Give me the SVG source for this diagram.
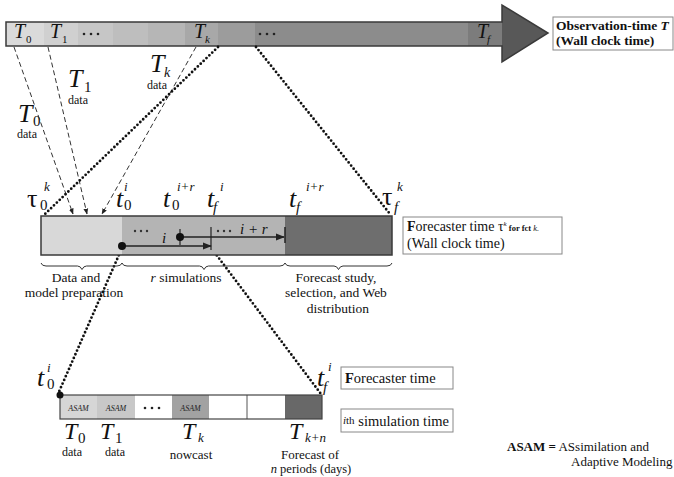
<svg xmlns="http://www.w3.org/2000/svg" width="674" height="477" viewBox="0 0 674 477">
<style>
text{font-family:"Liberation Serif","Times New Roman",serif;fill:#111}
.it{font-style:italic}
.bT{font-size:26px;font-style:italic}
.sub{font-size:15px}
.sup{font-size:13px;font-style:italic}
.lbl{font-size:13.5px}
.dash{stroke:#333;stroke-width:1;stroke-dasharray:5 3;fill:none}
.dot{stroke:#111;stroke-width:2.8;stroke-dasharray:0 4;stroke-linecap:round;fill:none}
.box{fill:#fff;stroke:#888;stroke-width:1}
.brace{fill:none;stroke:#333;stroke-width:1}
.asam{font-size:8px;font-style:italic;fill:#222}
.dl{font-size:12px}
</style>
<defs>
<marker id="ah" viewBox="0 0 10 10" refX="9" refY="5" markerWidth="6" markerHeight="6" orient="auto" markerUnits="userSpaceOnUse">
<path d="M0,1 L10,5 L0,9 Z" fill="#222"/>
</marker>
<marker id="ah2" viewBox="0 0 10 10" refX="9" refY="5" markerWidth="9" markerHeight="9" orient="auto" markerUnits="userSpaceOnUse">
<path d="M0,1 L10,5 L0,9 Z" fill="#222"/>
</marker>
</defs>

<!-- Observation time arrow -->
<g id="obs-bar">
<rect x="6" y="22" width="38" height="24" fill="#dadada"/>
<rect x="44" y="22" width="34" height="24" fill="#d0d0d0"/>
<rect x="78" y="22" width="35" height="24" fill="#c6c6c6"/>
<rect x="113" y="22" width="35" height="24" fill="#bebebe"/>
<rect x="148" y="22" width="37" height="24" fill="#b6b6b6"/>
<rect x="185" y="22" width="33" height="24" fill="#a8a8a8"/>
<rect x="218" y="22" width="37" height="24" fill="#9c9c9c"/>
<rect x="255" y="22" width="213" height="24" fill="#8c8c8c"/>
<rect x="468" y="22" width="34" height="24" fill="#7c7c7c"/>
<path d="M502,5 L548,33 L502,62 Z" fill="#585858"/>
<path d="M6,22 H502 V5 L548,33 L502,62 V46 H6 Z" fill="none" stroke="#3a3a3a" stroke-width="1.5"/>
<text x="14" y="38" class="it" font-size="20">T</text><text x="26" y="43" font-size="11">0</text>
<text x="50" y="38" class="it" font-size="20">T</text><text x="62" y="43" font-size="11">1</text>
<circle cx="84" cy="34" r="1.3" fill="#222"/><circle cx="91" cy="34" r="1.3" fill="#222"/><circle cx="98" cy="34" r="1.3" fill="#222"/>
<text x="194" y="38" class="it" font-size="20">T</text><text x="205" y="43" class="it" font-size="11">k</text>
<circle cx="260" cy="34" r="1.3" fill="#222"/><circle cx="267" cy="34" r="1.3" fill="#222"/><circle cx="274" cy="34" r="1.3" fill="#222"/>
<text x="477" y="38" class="it" font-size="20">T</text><text x="487" y="43" class="it" font-size="11">f</text>
</g>

<g id="obs-label">
<rect x="553" y="17" width="120" height="33" class="box"/>
<text x="556" y="30" font-size="13.5" font-weight="bold">Observation-time <tspan class="it">T</tspan></text>
<text x="556" y="45" font-size="13.5" font-weight="bold">(Wall clock time)</text>
</g>

<!-- data labels -->
<g id="T0-data">
<text x="18" y="122" class="bT">T</text><text x="33" y="126" class="sub">0</text>
<text x="27" y="138" text-anchor="middle" class="dl">data</text>
</g>
<g id="T1-data">
<text x="68" y="87" class="bT">T</text><text x="84" y="92" class="sub">1</text>
<text x="78" y="104" text-anchor="middle" class="dl">data</text>
</g>
<g id="Tk-data">
<text x="150" y="72" class="bT">T</text><text x="164" y="77" class="it" font-size="14">k</text>
<text x="157" y="89" text-anchor="middle" class="dl">data</text>
</g>

<!-- connectors -->
<g id="connectors">
<line x1="14" y1="47" x2="73" y2="214" class="dash" marker-end="url(#ah)"/>
<line x1="48" y1="47" x2="87" y2="214" class="dash" marker-end="url(#ah)"/>
<line x1="196" y1="47" x2="102" y2="214" class="dash" marker-end="url(#ah)"/>
<line x1="218" y1="47" x2="44" y2="215" class="dot"/>
<line x1="256" y1="47" x2="390" y2="214" class="dot"/>
<line x1="122" y1="248" x2="58" y2="394" class="dot"/>
<line x1="212" y1="249" x2="321" y2="394" class="dot"/>
</g>

<!-- forecaster bar -->
<g id="forecaster-bar">
<rect x="41" y="216" width="81" height="39" fill="#d8d8d8"/>
<rect x="122" y="216" width="163" height="39" fill="#b4b4b4"/>
<rect x="285" y="216" width="107" height="39" fill="#6e6e6e"/>
<rect x="41" y="216" width="351" height="39" fill="none" stroke="#3a3a3a" stroke-width="1.5"/>
<circle cx="135" cy="231" r="1.2" fill="#333"/><circle cx="141" cy="231" r="1.2" fill="#333"/><circle cx="147" cy="231" r="1.2" fill="#333"/>
<line x1="122" y1="246" x2="211" y2="246" stroke="#222" stroke-width="1.5" marker-end="url(#ah2)"/>
<circle cx="122" cy="246" r="4" fill="#111"/>
<text x="162" y="243" class="it" font-size="15">i</text>
<line x1="180" y1="229" x2="180" y2="245" stroke="#222" stroke-width="1.2"/>
<line x1="180" y1="237" x2="284" y2="237" stroke="#222" stroke-width="1.5" marker-end="url(#ah2)"/>
<circle cx="180" cy="237" r="4" fill="#111"/>
<line x1="211" y1="227" x2="211" y2="250" stroke="#222" stroke-width="1.2"/>
<line x1="285" y1="227" x2="285" y2="243" stroke="#222" stroke-width="1.5"/>
<circle cx="218" cy="231" r="1.2" fill="#333"/><circle cx="224" cy="231" r="1.2" fill="#333"/><circle cx="230" cy="231" r="1.2" fill="#333"/>
<text x="240" y="234" class="it" font-size="15">i + r</text>
</g>

<g id="forecaster-marks">
<text x="27" y="207" font-size="26">τ</text><text x="40" y="210" class="sub" font-family="DejaVu Sans, sans-serif">0</text><text x="44" y="191" class="sup">k</text>
<text x="116" y="207" class="bT">t</text><text x="124" y="210" class="sub" font-family="DejaVu Sans, sans-serif">0</text><text x="124" y="191" class="sup">i</text>
<text x="163" y="207" class="bT">t</text><text x="172" y="210" class="sub" font-family="DejaVu Sans, sans-serif">0</text><text x="177" y="191" class="sup">i+r</text>
<text x="207" y="207" class="bT">t</text><text x="213" y="212" class="it" font-size="15">f</text><text x="220" y="191" class="sup">i</text>
<text x="289" y="207" class="bT">t</text><text x="296" y="212" class="it" font-size="15">f</text><text x="306" y="191" class="sup">i+r</text>
<text x="382" y="205" font-size="26">τ</text><text x="394" y="212" class="it" font-size="15">f</text><text x="397" y="191" class="sup">k</text>
</g>

<g id="forecaster-label">
<rect x="403" y="217" width="159" height="37" class="box"/>
<text x="407" y="231" font-size="14"><tspan font-weight="bold">F</tspan>orecaster time τ<tspan font-size="7" dy="-5" class="it">k</tspan><tspan font-size="8.5" font-weight="bold" dy="5"> for fct </tspan><tspan font-size="8.5" class="it">k.</tspan></text>
<text x="407" y="248" font-size="14">(Wall clock time)</text>
</g>

<g id="braces">
<path class="brace" d="M41,263 q1,3 5,3 H77.5 q3,0 4.5,3.5 q1.5,-3.5 4.5,-3.5 H117 q4,0 5,-3"/>
<path class="brace" d="M122,263 q1,3 5,3 H199.5 q3,0 4.5,3.5 q1.5,-3.5 4.5,-3.5 H280 q4,0 5,-3"/>
<path class="brace" d="M285,263 q1,3 5,3 H334 q3,0 4.5,3.5 q1.5,-3.5 4.5,-3.5 H387 q4,0 5,-3"/>
</g>

<g id="phase-labels">
<text x="76" y="282" text-anchor="middle" class="lbl">Data and</text>
<text x="74" y="297" text-anchor="middle" class="lbl">model preparation</text>
<text x="186" y="282" text-anchor="middle" class="lbl"><tspan class="it">r</tspan> simulations</text>
<text x="336" y="282" text-anchor="middle" class="lbl">Forecast study,</text>
<text x="336" y="297" text-anchor="middle" class="lbl">selection, and Web</text>
<text x="338" y="313" text-anchor="middle" class="lbl">distribution</text>
</g>

<!-- simulation bar -->
<g id="simulation-bar">
<rect x="60" y="395" width="37" height="24" fill="#d6d6d6"/>
<rect x="97" y="395" width="38" height="24" fill="#c8c8c8"/>
<rect x="135" y="395" width="37" height="24" fill="#ffffff"/>
<rect x="172" y="395" width="37" height="24" fill="#a2a2a2"/>
<rect x="209" y="395" width="76" height="24" fill="#ffffff"/>
<rect x="285" y="395" width="37" height="24" fill="#686868"/>
<line x1="247" y1="395" x2="247" y2="419" stroke="#555" stroke-width="1"/>
<rect x="60" y="395" width="262" height="24" fill="none" stroke="#444" stroke-width="1.2"/>
<text x="78.5" y="411" text-anchor="middle" class="asam">ASAM</text>
<text x="116" y="411" text-anchor="middle" class="asam">ASAM</text>
<text x="190.5" y="411" text-anchor="middle" class="asam">ASAM</text>
<circle cx="145" cy="408" r="1.3" fill="#222"/><circle cx="152" cy="408" r="1.3" fill="#222"/><circle cx="159" cy="408" r="1.3" fill="#222"/>
<circle cx="60" cy="395" r="3.5" fill="#111"/>
</g>

<g id="simulation-marks">
<text x="37" y="386" class="bT">t</text><text x="47" y="389" class="sub" font-family="DejaVu Sans, sans-serif">0</text><text x="47" y="372" class="sup">i</text>
<text x="317" y="386" class="bT">t</text><text x="323" y="392" class="it" font-size="15">f</text><text x="328" y="371" class="sup">i</text>
</g>

<g id="simulation-labels">
<text x="64" y="439" font-size="24" class="it">T</text><text x="78" y="443" class="sub">0</text>
<text x="72" y="456" text-anchor="middle" class="dl">data</text>
<text x="100" y="439" font-size="24" class="it">T</text><text x="115" y="443" class="sub">1</text>
<text x="115" y="456" text-anchor="middle" class="dl">data</text>
<text x="182" y="439" font-size="24" class="it">T</text><text x="198" y="442" class="it" font-size="13">k</text>
<text x="191" y="459" text-anchor="middle" font-size="13">nowcast</text>
<text x="289" y="439" font-size="24" class="it">T</text><text x="305" y="442" class="it" font-size="13">k+n</text>
<text x="310" y="459" text-anchor="middle" font-size="13">Forecast of</text>
<text x="311" y="473" text-anchor="middle" font-size="12.5"><tspan class="it">n</tspan> periods (days)</text>
</g>

<g id="forecaster-time-label">
<rect x="341" y="367" width="112" height="22" class="box"/>
<text x="345" y="383" font-size="14.5"><tspan font-weight="bold">F</tspan>orecaster time</text>
</g>
<g id="simulation-time-label">
<rect x="341" y="409" width="112" height="23" class="box"/>
<text x="343" y="426" font-size="14.5"><tspan class="it" font-size="11" dy="-2">i</tspan><tspan font-size="11">th</tspan><tspan dy="2"> simulation time</tspan></text>
</g>

<g id="asam-legend">
<text x="507" y="451" font-size="13"><tspan font-weight="bold">ASAM =</tspan> ASsimilation and</text>
<text x="571" y="466" font-size="13">Adaptive Modeling</text>
</g>
</svg>
